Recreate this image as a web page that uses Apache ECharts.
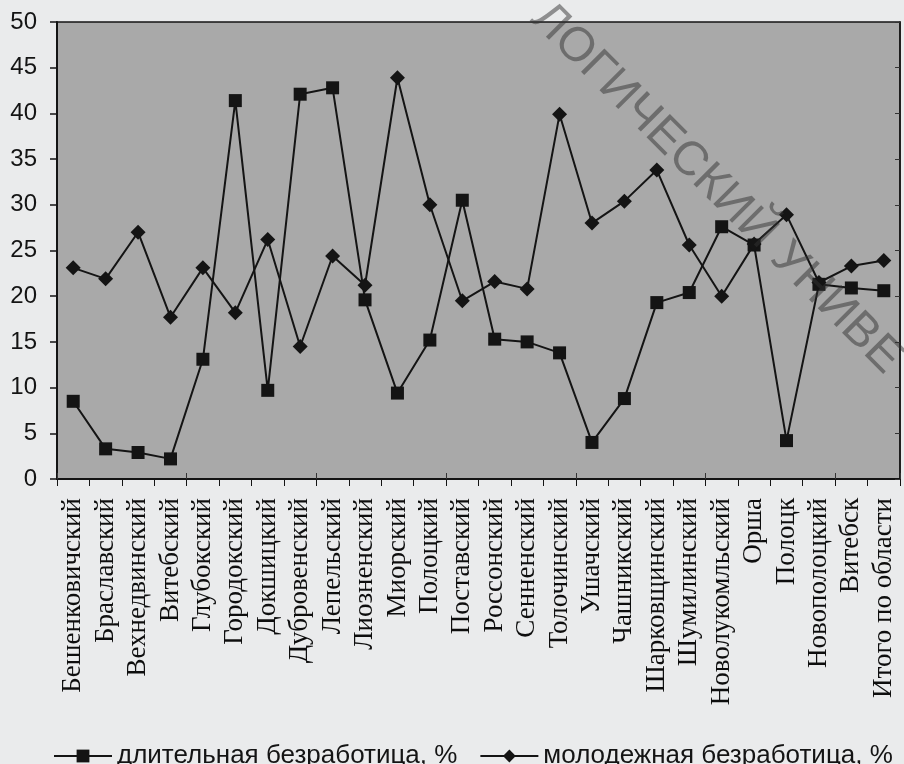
<!DOCTYPE html>
<html>
<head>
<meta charset="utf-8">
<script src="https://cdn.jsdelivr.net/npm/echarts@6/dist/echarts.min.js"></script>
<style>
  html, body { margin: 0; padding: 0; background: #eaebec; }
  #chart { width: 904px; height: 764px; }
</style>
</head>
<body>
<div id="chart"></div>
<script>
// ===== data =====
const districts = ['Бешенковичский', 'Браславский', 'Вехнедвинский', 'Витебский', 'Глубокский',
    'Городокский', 'Докшицкий', 'Дубровенский', 'Лепельский', 'Лиозненский', 'Миорский',
    'Полоцкий', 'Поставский', 'Россонский', 'Сенненский', 'Толочинский', 'Ушачский',
    'Чашникский', 'Шарковщинский', 'Шумилинский', 'Новолукомльский', 'Орша', 'Полоцк',
    'Новополоцкий', 'Витебск', 'Итого по области'];
const longTerm = [8.5, 3.3, 2.9, 2.2, 13.1, 41.4, 9.7, 42.1, 42.8, 19.6, 9.4, 15.2, 30.5,
    15.3, 15.0, 13.8, 4.0, 8.8, 19.3, 20.4, 27.6, 25.6, 4.2, 21.3, 20.9, 20.6];
const youth = [23.1, 21.9, 27.0, 17.7, 23.1, 18.2, 26.2, 14.5, 24.4, 21.2, 43.9, 30.0, 19.5,
    21.6, 20.8, 39.9, 28.0, 30.4, 33.8, 25.6, 20.0, 25.7, 28.9, 21.5, 23.3, 23.9];
const yTicks = { min: 0, max: 50, step: 5 };
const seriesNames = ['длительная безработица, %', 'молодежная безработица, %'];

const chart = echarts.init(document.getElementById('chart'));
const ink = '#141414';

chart.setOption({
    backgroundColor: '#eaebec',
    animation: false,
    grid: { left: 57, right: 4, top: 22, bottom: 285, show: true,
            backgroundColor: '#a9a9a9', borderColor: ink, borderWidth: 1.5 },
    legend: {
        left: 48, top: 738, itemWidth: 58, itemHeight: 16, itemGap: 22,
        textStyle: { fontFamily: 'Liberation Sans, Arial', fontSize: 26, color: ink },
        data: seriesNames
    },
    xAxis: [{
        type: 'category', data: districts, boundaryGap: true,
        axisLine: { lineStyle: { color: ink, width: 2 } },
        axisTick: { show: true, length: 7, lineStyle: { color: ink } },
        axisLabel: { rotate: 90, interval: 0, margin: 19, color: '#0e0e0e',
                     fontFamily: 'Liberation Serif, Times New Roman', fontSize: 27 },
        splitLine: { show: false }
    }, {
        // inner half of the crossing ticks
        type: 'category', data: districts, position: 'bottom', boundaryGap: true,
        axisLine: { show: false },
        axisTick: { show: true, inside: true, length: 6, lineStyle: { color: '#333' } },
        axisLabel: { show: false }
    }],
    yAxis: [{
        type: 'value', min: yTicks.min, max: yTicks.max, interval: yTicks.step,
        axisLine: { show: true, lineStyle: { color: ink, width: 2 } },
        axisTick: { show: true, length: 7, lineStyle: { color: ink, width: 1.5 } },
        axisLabel: { color: ink, fontFamily: 'Liberation Sans, Arial', fontSize: 24, margin: 20 },
        splitLine: { show: false }
    }, {
        type: 'value', position: 'right', min: yTicks.min, max: yTicks.max, interval: yTicks.step,
        axisLine: { show: true, lineStyle: { color: ink, width: 1.5 } },
        axisTick: { show: true, inside: true, length: 5, lineStyle: { color: '#333' } },
        axisLabel: { show: false },
        splitLine: { show: false }
    }],
    graphic: [{
        type: 'text', left: 522, top: -6, rotation: -Math.PI / 4, z: 100, silent: true,
        originX: 0, originY: 0,
        style: { text: 'ЛОГИЧЕСКИЙ УНИВЕ', fontFamily: 'Liberation Sans, Arial', fontSize: 48,
                 fill: 'rgba(50,50,50,0.5)' }
    }],
    series: [{
        name: seriesNames[0], type: 'line', data: longTerm,
        symbol: 'rect', symbolSize: 13,
        lineStyle: { color: ink, width: 2 }, itemStyle: { color: ink }
    }, {
        name: seriesNames[1], type: 'line', data: youth,
        symbol: 'diamond', symbolSize: 15,
        lineStyle: { color: ink, width: 2 }, itemStyle: { color: ink }
    }]
});
</script>
</body>
</html>
